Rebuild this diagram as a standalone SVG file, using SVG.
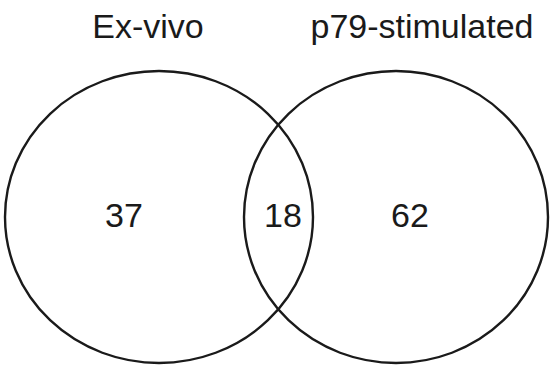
<svg xmlns="http://www.w3.org/2000/svg" width="553" height="365" viewBox="0 0 553 365">
<style>
.c{fill:none;stroke:#1a1a1a;stroke-width:2.4}
.t{font-family:"Liberation Sans",Arial,sans-serif;font-size:34px;fill:#1a1a1a;text-anchor:middle}
</style>
<rect width="553" height="365" fill="#fff"/>
<g id="set-exvivo">
<ellipse class="c" cx="159" cy="217" rx="154" ry="146"/>
<text class="t" x="148" y="38">Ex-vivo</text>
<text class="t" x="124" y="227">37</text>
</g>
<g id="set-p79">
<ellipse class="c" cx="396" cy="217" rx="152" ry="146"/>
<text class="t" x="422" y="38">p79-stimulated</text>
<text class="t" x="410" y="227">62</text>
</g>
<g id="overlap">
<text class="t" x="283" y="227">18</text>
</g>
<g id="connectors"/>
</svg>
